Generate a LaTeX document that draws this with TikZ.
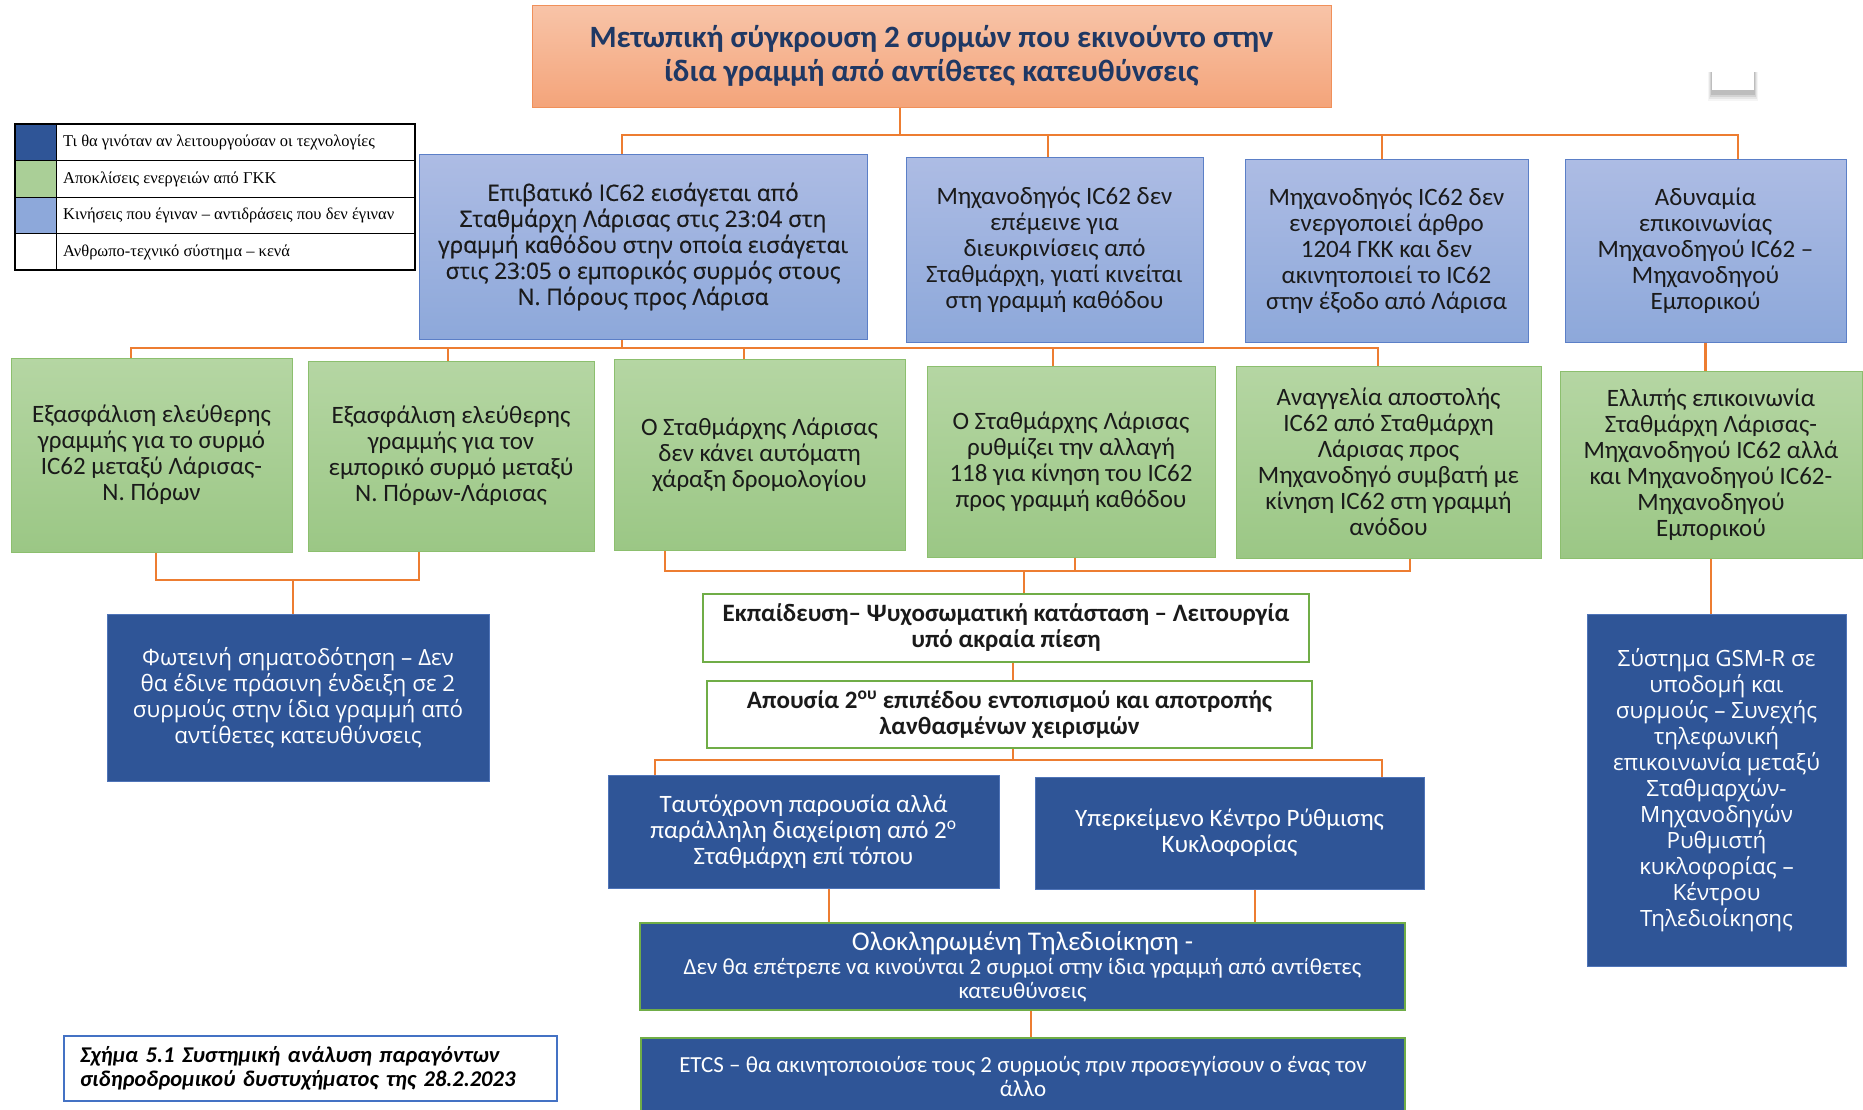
\documentclass[tikz,border=0pt]{standalone}
\usepackage{fontspec}
\setmainfont{Carlito}
\newfontfamily\widefont{Open Sans}
\newfontfamily\widebold[FakeBold=0.6]{Open Sans}
\newfontfamily\legfont{Liberation Serif}
\definecolor{orline}{HTML}{ED7D31}
\definecolor{ttop}{HTML}{F8C4A8}
\definecolor{tbot}{HTML}{F4A47A}
\definecolor{tedge}{HTML}{F0905A}
\definecolor{navy}{HTML}{1F3864}
\definecolor{lbtop}{HTML}{ADBCE4}
\definecolor{lbbot}{HTML}{8DA8DA}
\definecolor{lbedge}{HTML}{5B7FC7}
\definecolor{gtop}{HTML}{B5D6A3}
\definecolor{gbot}{HTML}{9BC785}
\definecolor{gedge}{HTML}{8CBF6E}
\definecolor{dblue}{HTML}{2F5597}
\definecolor{dbedge}{HTML}{4F74B8}
\definecolor{gline}{HTML}{70AD47}
\definecolor{capedge}{HTML}{4472C4}
\definecolor{txtdark}{HTML}{1A1A1A}

\begin{document}
\begin{tikzpicture}[x=1pt, y=-1pt,
  conn/.style={draw=orline, line width=2.6pt},
  sz/.style 2 args={minimum width=#1pt, minimum height=#2pt},
  box/.style={rectangle, align=center, inner sep=0pt},
  titlebox/.style={box, draw=tedge, line width=1pt, top color=ttop, bottom color=tbot,
    text=navy, font=\fontsize{31}{34}\selectfont\bfseries},
  lbox/.style={box, draw=lbedge, line width=1pt, top color=lbtop, bottom color=lbbot,
    text=txtdark, font=\fontsize{25}{26}\selectfont},
  gbox/.style={box, draw=gedge, line width=1pt, top color=gtop, bottom color=gbot,
    text=txtdark, font=\fontsize{25}{26}\selectfont},
  dbox/.style={box, draw=dbedge, line width=1pt, fill=dblue, text=white,
    font=\fontsize{25}{26}\selectfont},
  wbox/.style={box, draw=gline, line width=1.8pt, fill=white, text=txtdark,
    font=\fontsize{25}{26}\selectfont\bfseries}]

\useasboundingbox (0,0) rectangle (1863,1109);
\clip (0,0) rectangle (1863,1109);
\fill[white] (0,0) rectangle (1863,1109);

% top
\node[titlebox, sz={799}{102}] (title) at (931.5,56)
  {Μετωπική σύγκρουση 2 συρμών που εκινούντο στην\\ίδια γραμμή από αντίθετες κατευθύνσεις};
\foreach \k/\o in {6/0.04,4/0.06,2/0.08,0/0.1}
  \fill[black, opacity=\o] (1711-\k/2,72) rectangle (1755+\k/2,95+\k);
\node[box, fill=white, sz={42}{24}] (blank) at (1733,78) {};

% legend
\fill[dblue] (15,124) rectangle (56,160.5);
\fill[gbot!85!white] (15,160.5) rectangle (56,197);
\fill[lbbot] (15,197) rectangle (56,233.5);
\draw[line width=1.4pt] (15,124) rectangle (415,270);
\draw[line width=1pt] (56,124) -- (56,270)
  (15,160.5) -- (415,160.5) (15,197) -- (415,197) (15,233.5) -- (415,233.5);
\foreach \y/\t [count=\i] in {142/{Τι θα γινόταν αν λειτουργούσαν οι τεχνολογίες},
    179/{Αποκλίσεις ενεργειών από ΓΚΚ},
    215/{Κινήσεις που έγιναν – αντιδράσεις που δεν έγιναν},
    252/{Ανθρωπο-τεχνικό σύστημα – κενά}}
  \node[anchor=west, inner sep=0pt, font=\legfont\fontsize{16.5}{18}\selectfont] (leg\i) at (63,\y) {\t};

% first row
\node[lbox, sz={448}{185}, font=\widebold\fontsize{22.5}{26}\selectfont] (b1) at (643,246.5)
  {Επιβατικό IC62 εισάγεται από\\Σταθμάρχη Λάρισας στις 23:04 στη\\γραμμή καθόδου στην οποία εισάγεται\\στις 23:05 ο εμπορικός συρμός στους\\Ν. Πόρους προς Λάρισα};
\node[lbox, sz={297}{185}] (b2) at (1054.5,249.5)
  {Μηχανοδηγός IC62 δεν\\επέμεινε για\\διευκρινίσεις από\\Σταθμάρχη, γιατί κινείται\\στη γραμμή καθόδου};
\node[lbox, sz={283}{183}] (b3) at (1386.5,250.5)
  {Μηχανοδηγός IC62 δεν\\ενεργοποιεί άρθρο\\1204 ΓΚΚ και δεν\\ακινητοποιεί το IC62\\στην έξοδο από Λάρισα};
\node[lbox, sz={281}{183}] (b4) at (1705.5,250.5)
  {Αδυναμία\\επικοινωνίας\\Μηχανοδηγού IC62 –\\Μηχανοδηγού\\Εμπορικού};

% second row
\node[gbox, sz={281}{194}] (g1) at (151.5,455)
  {Εξασφάλιση ελεύθερης\\γραμμής για το συρμό\\IC62 μεταξύ Λάρισας-\\Ν. Πόρων};
\node[gbox, sz={286}{190}] (g2) at (451,456)
  {Εξασφάλιση ελεύθερης\\γραμμής για τον\\εμπορικό συρμό μεταξύ\\Ν. Πόρων-Λάρισας};
\node[gbox, sz={291}{191}] (g3) at (759.5,454.5)
  {Ο Σταθμάρχης Λάρισας\\δεν κάνει αυτόματη\\χάραξη δρομολογίου};
\node[gbox, sz={288}{191}] (g4) at (1071,461.5)
  {Ο Σταθμάρχης Λάρισας\\ρυθμίζει την αλλαγή\\118 για κίνηση του IC62\\προς γραμμή καθόδου};
\node[gbox, sz={305}{192}] (g5) at (1388.5,462)
  {Αναγγελία αποστολής\\IC62 από Σταθμάρχη\\Λάρισας προς\\Μηχανοδηγό συμβατή με\\κίνηση IC62 στη γραμμή\\ανόδου};
\node[gbox, sz={302}{187}] (g6) at (1711,464.5)
  {Ελλιπής επικοινωνία\\Σταθμάρχη Λάρισας-\\Μηχανοδηγού IC62 αλλά\\και Μηχανοδηγού IC62-\\Μηχανοδηγού\\Εμπορικού};

% lower part
\node[dbox, sz={382}{167}, font=\widefont\fontsize{22.4}{26}\selectfont] (fwt) at (298,697.5)
  {Φωτεινή σηματοδότηση – Δεν\\θα έδινε πράσινη ένδειξη σε 2\\συρμούς στην ίδια γραμμή από\\αντίθετες κατευθύνσεις};
\node[wbox, sz={606}{68}] (edu) at (1006,628)
  {Εκπαίδευση– Ψυχοσωματική κατάσταση – Λειτουργία\\υπό ακραία πίεση};
\node[wbox, sz={605}{67}] (ap) at (1009.5,714.5)
  {Απουσία 2\textsuperscript{ου} επιπέδου εντοπισμού και αποτροπής\\λανθασμένων χειρισμών};
\node[dbox, sz={391}{113}] (t1) at (803.5,831.5)
  {Ταυτόχρονη παρουσία αλλά\\παράλληλη διαχείριση από 2\textsuperscript{ο}\\Σταθμάρχη επί τόπου};
\node[dbox, sz={389}{112}] (t2) at (1229.5,833)
  {Υπερκείμενο Κέντρο Ρύθμισης\\Κυκλοφορίας};
\node[dbox, draw=gline, line width=1.8pt, sz={765}{87}, font=\fontsize{23}{24}\selectfont] (oti) at (1022.5,966.5)
  {{\fontsize{27}{24}\selectfont Ολοκληρωμένη Τηλεδιοίκηση -}\\Δεν θα επέτρεπε να κινούνται 2 συρμοί στην ίδια γραμμή από αντίθετες\\κατευθύνσεις};
\node[dbox, draw=gline, line width=1.8pt, sz={764}{77}, font=\fontsize{23}{24}\selectfont] (etcs) at (1023,1076.5)
  {ETCS – θα ακινητοποιούσε τους 2 συρμούς πριν προσεγγίσουν ο ένας τον\\άλλο};
\node[dbox, sz={259}{352}, font=\widefont\fontsize{22.4}{26}\selectfont] (gsm) at (1716.5,790)
  {Σύστημα GSM-R σε\\υποδομή και\\συρμούς – Συνεχής\\τηλεφωνική\\επικοινωνία μεταξύ\\Σταθμαρχών-\\Μηχανοδηγών\\Ρυθμιστή\\κυκλοφορίας –\\Κέντρου\\Τηλεδιοίκησης};
\node[box, draw=capedge, line width=1.8pt, fill=white, sz={493}{65}, align=left, text width=461pt,
  font=\fontsize{22.5}{24}\selectfont\bfseries\itshape] (cap) at (310.5,1068.5)
  {Σχήμα 5.1 Συστημική ανάλυση παραγόντων\\σιδηροδρομικού δυστυχήματος της 28.2.2023};

% connectors
\coordinate (j1) at (900,135);
\draw[conn] (title.south -| j1) -- (j1);
\draw[conn] ([xshift=-21pt]b1.north) -- ([xshift=-21pt]b1.north |- j1)
  -- ([xshift=32.5pt]b4.north |- j1) -- ([xshift=32.5pt]b4.north);
\draw[conn] ([xshift=-6.5pt]b2.north) -- ([xshift=-6.5pt]b2.north |- j1);
\draw[conn] ([xshift=-4.5pt]b3.north) -- ([xshift=-4.5pt]b3.north |- j1);

\coordinate (j2) at (622,348);
\draw[conn] ([xshift=-21pt]b1.south) -- (j2);
\draw[conn] ([xshift=-20.5pt]g1.north) -- ([xshift=-20.5pt]g1.north |- j2)
  -- ([xshift=-10.5pt]g5.north |- j2) -- ([xshift=-10.5pt]g5.north);
\draw[conn] ([xshift=-3pt]g2.north) -- ([xshift=-3pt]g2.north |- j2);
\draw[conn] ([xshift=-15.5pt]g3.north) -- ([xshift=-15.5pt]g3.north |- j2);
\draw[conn] ([xshift=-18pt]g4.north) -- ([xshift=-18pt]g4.north |- j2);
\draw[conn] (b4.south) -- (b4.south |- g6.north);

\coordinate (j3) at (293,580);
\draw[conn] ([xshift=4.5pt]g1.south) -- ([xshift=4.5pt]g1.south |- j3)
  -- ([xshift=-32pt]g2.south |- j3) -- ([xshift=-32pt]g2.south);
\draw[conn] (j3) -- (j3 |- fwt.north);

\coordinate (j4) at (1024,571);
\draw[conn] ([xshift=-94.5pt]g3.south) -- ([xshift=-94.5pt]g3.south |- j4)
  -- ([xshift=21.5pt]g5.south |- j4) -- ([xshift=21.5pt]g5.south);
\draw[conn] ([xshift=4pt]g4.south) -- ([xshift=4pt]g4.south |- j4);
\draw[conn] (j4) -- (j4 |- edu.north);
\draw[conn] ([xshift=7pt]edu.south) -- ([xshift=7pt]edu.south |- ap.north);

\coordinate (j5) at (1013,760);
\draw[conn] ([xshift=3.5pt]ap.south) -- (j5);
\draw[conn] ([xshift=-148.5pt]t1.north) -- ([xshift=-148.5pt]t1.north |- j5)
  -- ([xshift=152.5pt]t2.north |- j5) -- ([xshift=152.5pt]t2.north);
\draw[conn] ([xshift=25.5pt]t1.south) -- ([xshift=25.5pt]t1.south |- oti.north);
\draw[conn] ([xshift=25.5pt]t2.south) -- ([xshift=25.5pt]t2.south |- oti.north);
\draw[conn] ([xshift=8.5pt]oti.south) -- ([xshift=8.5pt]oti.south |- etcs.north);
\draw[conn] (g6.south) -- (g6.south |- gsm.north);

\end{tikzpicture}
\end{document}
